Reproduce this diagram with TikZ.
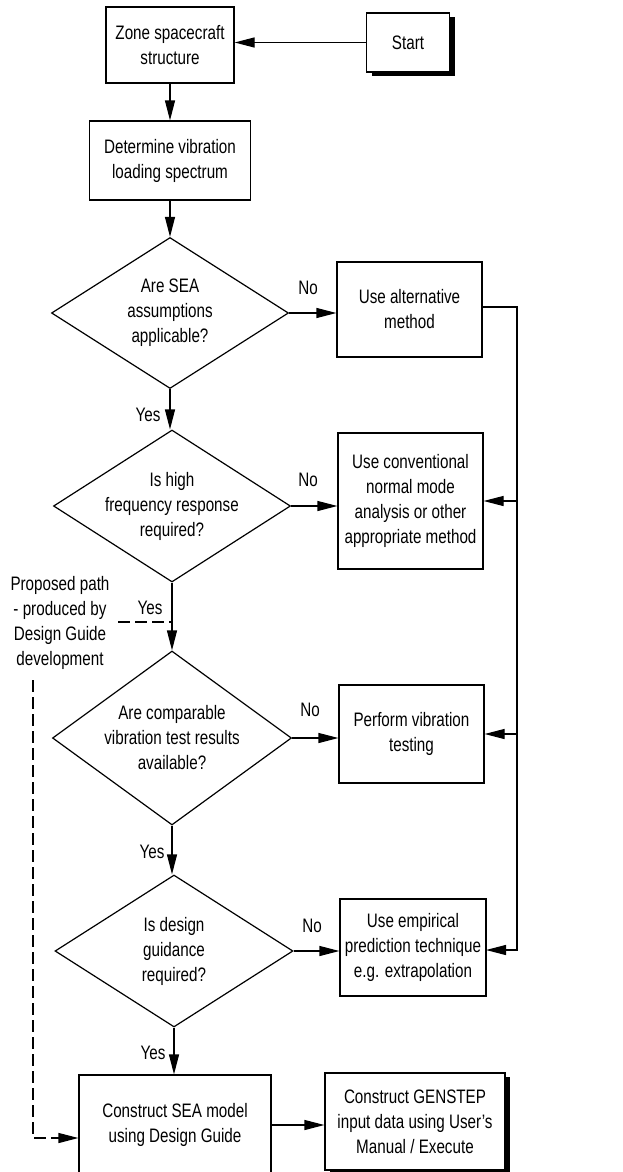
\documentclass[tikz,border=0pt]{standalone}
\usepackage{fontspec}
\setmainfont[FakeStretch=0.78]{Liberation Sans}
\usetikzlibrary{arrows.meta,shapes.geometric,shadows}
\begin{document}
\begin{tikzpicture}[x=1pt,y=-1pt,
  line width=1.2pt,
  every node/.style={font=\fontsize{19.5}{25}\selectfont, align=center},
  box/.style={draw, rectangle, inner sep=0pt, fill=white},
  dia/.style={draw, diamond, inner sep=0pt},
  lbl/.style={inner sep=0pt},
  arr/.style={-{Triangle[length=20pt,width=10pt]}},
  dsh/.style={dash pattern=on 12pt off 5pt},
  shd/.style={drop shadow={shadow xshift=5pt, shadow yshift=-4pt, fill=black, opacity=1}}
]
\clip (0,0) rectangle (623,1172);
\fill[white] (0,0) rectangle (623,1172);

% boxes
\node[box, minimum width=128pt, minimum height=76pt] (zone) at (170,45) {Zone spacecraft\\structure};
\node[box, shd, minimum width=83pt, minimum height=59pt] (start) at (408,42.5) {Start};
\node[box, minimum width=161pt, minimum height=79pt] (det) at (170,160.5) {Determine vibration\\loading spectrum};

\node[dia, minimum width=237pt, minimum height=151pt] (d1) at (170,313) {};
\node[lbl] (d1t) at (d1.center) {Are SEA\\assumptions\\applicable?};
\node[box, minimum width=145pt, minimum height=95pt] (alt) at (409.5,309.5) {Use alternative\\method};

\node[dia, minimum width=237pt, minimum height=152pt] (d2) at (172,506) {};
\node[lbl] (d2t) at (d2.center) {Is high\\frequency response\\required?};
\node[box, minimum width=145pt, minimum height=136pt] (conv) at (410.5,501) {Use conventional\\normal mode\\analysis or other\\appropriate method};

\node[dia, minimum width=239pt, minimum height=174pt] (d3) at (172,738) {};
\node[lbl] (d3t) at (d3.center) {Are comparable\\vibration test results\\available?};
\node[box, minimum width=145pt, minimum height=98pt] (perf) at (411.5,734) {Perform vibration\\testing};

\node[dia, minimum width=238pt, minimum height=152pt] (d4) at (174,951) {};
\node[lbl] (d4t) at (d4.center) {Is design\\guidance\\required?};
\node[box, minimum width=146pt, minimum height=97pt] (emp) at (413,947.5) {Use empirical\\prediction technique\\e.g. extrapolation};

\node[box, minimum width=192pt, minimum height=100pt] (sea) at (175,1125) {Construct SEA model\\using Design Guide};
\node[box, shd, minimum width=180pt, minimum height=97pt] (gen) at (415,1121.5) {Construct GENSTEP\\input data using User's\\Manual / Execute};

% side text
\node[lbl] (prop) at (60,623) {Proposed path\\- produced by\\Design Guide\\development};

% labels
\node[lbl] (no1) at (308,288) {No};
\node[lbl] (yes1) at (148,415) {Yes};
\node[lbl] (no2) at (308,480) {No};
\node[lbl] (yes2) at (150,608) {Yes};
\node[lbl] (no3) at (310,710) {No};
\node[lbl] (yes3) at (152,852) {Yes};
\node[lbl] (no4) at (312,926) {No};
\node[lbl] (yes4) at (153,1053) {Yes};

% main flow
\draw[arr] (start.west) -- (start.west -| zone.east);
\draw[arr] (zone.south) -- (zone.south |- det.north);
\draw[arr] (det.south) -- (det.south |- d1.north);
\draw[arr] (d1.south) -- (d1.south |- d2.north);
\draw[arr] (d2.south) -- (d2.south |- d3.north);
\draw[arr] (d3.south) -- (d3.south |- d4.north);
\draw[arr] (d4.south) -- (d4.south |- sea.north);
\draw[arr] (sea.east) -- (sea.east -| gen.west);

\draw[arr] (d1.east) -- (d1.east -| alt.west);
\draw[arr] (d2.east) -- (d2.east -| conv.west);
\draw[arr] (d3.east) -- (d3.east -| perf.west);
\draw[arr] (d4.east) -- (d4.east -| emp.west);

% feedback line
\coordinate (fbt) at (517,0);
\coordinate (altout) at (482,307);
\coordinate (empin) at (486,950);
\draw[arr] (altout) -- (altout -| fbt) -- (empin -| fbt) -- (empin);
\draw[arr] (conv.east -| fbt) -- (conv.east);
\draw[arr] (perf.east -| fbt) -- (perf.east);

% proposed path (dashed)
\coordinate (pp) at (118,622);
\draw[dsh] (pp) -- (pp -| d2.south);
\coordinate (pv) at (33,680);
\coordinate (pe) at (33,1138);
\draw[dsh,arr] (pv) -- (pe) -- (pe -| sea.west);
\end{tikzpicture}
\end{document}
